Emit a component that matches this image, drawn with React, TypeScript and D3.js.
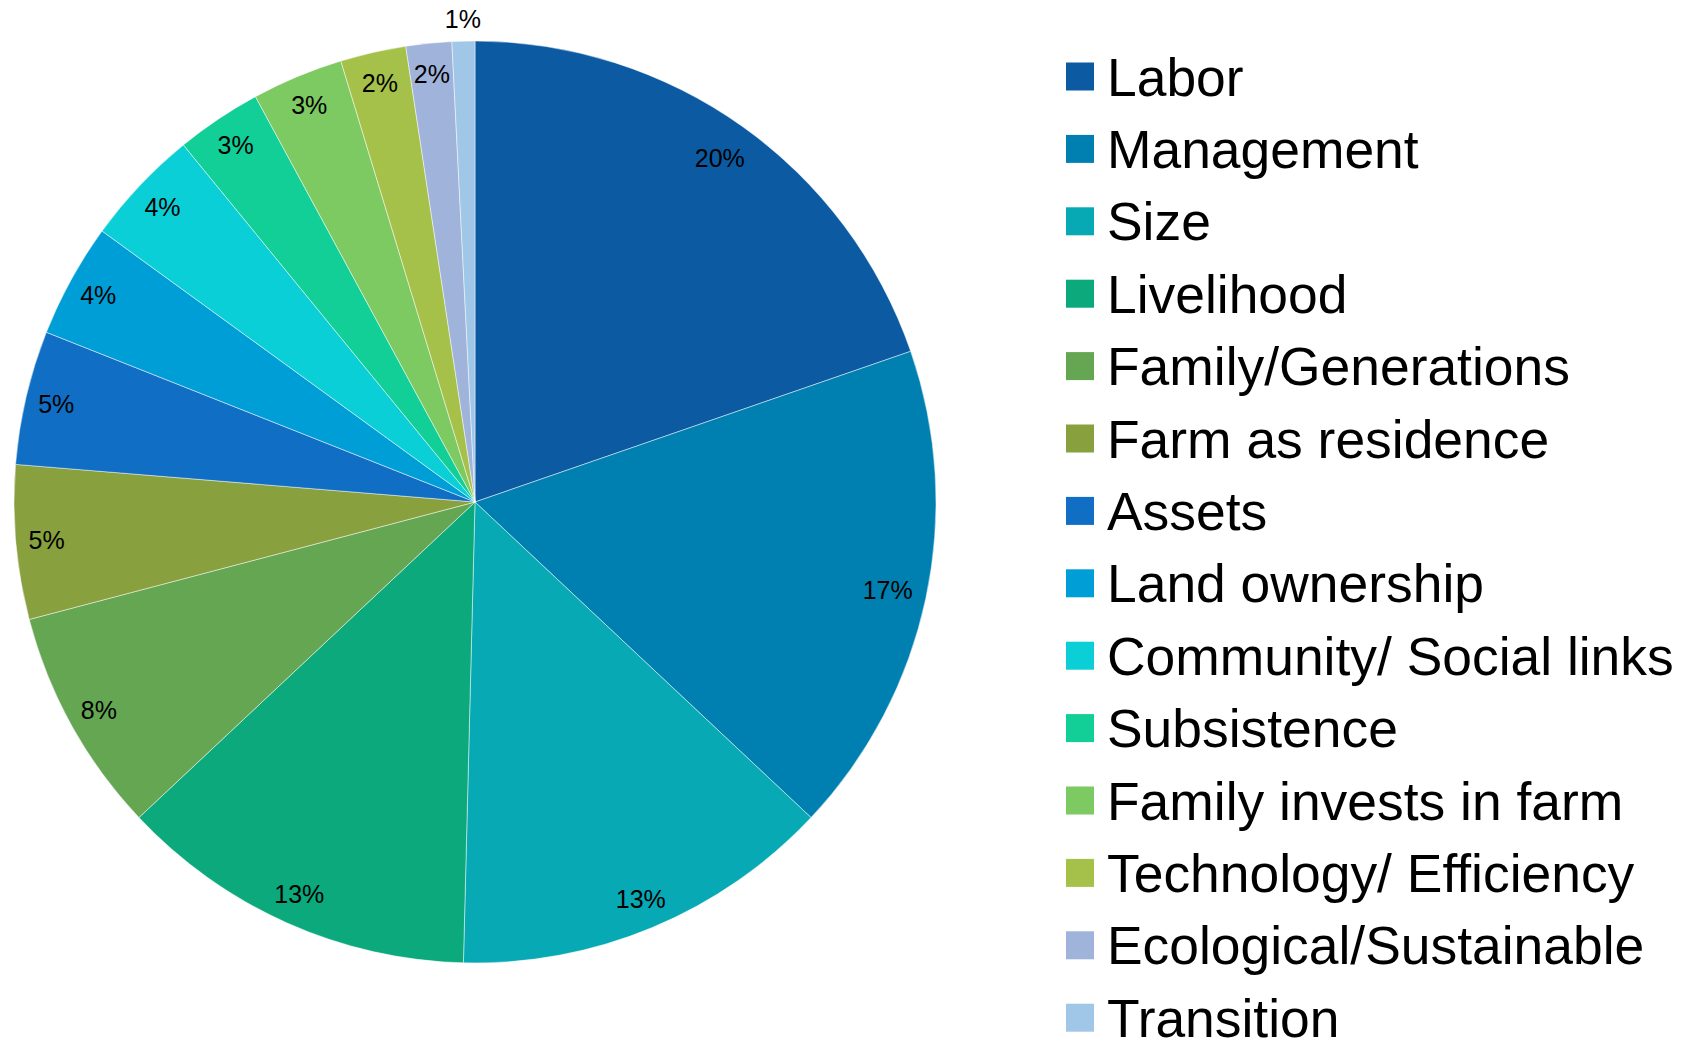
import React from "react";
import * as d3 from "d3";

const categories = [
  "Labor",
  "Management",
  "Size",
  "Livelihood",
  "Family/Generations",
  "Farm as residence",
  "Assets",
  "Land ownership",
  "Community/ Social links",
  "Subsistence",
  "Family invests in farm",
  "Technology/ Efficiency",
  "Ecological/Sustainable",
  "Transition",
];

const shares = [19.7, 17.3, 13.4, 12.6, 7.9, 5.4, 4.7, 4.0, 4.1, 3.0, 3.2, 2.3, 1.6, 0.8];

const colors = [
  "#0B5AA2",
  "#0080B0",
  "#06A9B4",
  "#0BA97B",
  "#65A653",
  "#88A03D",
  "#106EC4",
  "#009ED6",
  "#0BCFD6",
  "#11CF97",
  "#7DC962",
  "#A6C14A",
  "#A0B3DB",
  "#A0C7E7",
];

const W = 1689;
const H = 1038;
const cx = 475;
const cy = 502;
const R = 461;

export default function App() {
  const total = d3.sum(shares);
  const pie = d3
    .pie<number>()
    .sort(null)
    .value((d) => d);
  const arcs = pie(shares);
  const arcGen = d3.arc<d3.PieArcDatum<number>>().innerRadius(0).outerRadius(R);

  const legendX = 1066;
  const legendY0 = 76.5;
  const legendStep = 72.4;
  const sq = 28;
  const legendFont = 53.4;
  const labelFont = 25;

  return (
    <svg
      width={W}
      height={H}
      viewBox={`0 0 ${W} ${H}`}
      style={{ position: "absolute", left: 0, top: 0, background: "#fff" }}
      fontFamily="'Liberation Sans', Arial, sans-serif"
    >
      <g transform={`translate(${cx},${cy})`}>
        {arcs.map((a, i) => (
          <path
            key={i}
            d={arcGen(a) || ""}
            fill={colors[i]}
            stroke="#ffffff"
            strokeOpacity={0.6}
            strokeWidth={0.8}
          />
        ))}
        {arcs.map((a, i) => {
          const mid = (a.startAngle + a.endAngle) / 2;
          const small = a.endAngle - a.startAngle < 0.06;
          const pct = Math.round((shares[i] / total) * 100);
          const lr = small ? R + 22 : pct >= 15 ? 422 : 430;
          const x = lr * Math.sin(mid);
          const y = -lr * Math.cos(mid);
          return (
            <text
              key={"l" + i}
              x={x}
              y={y}
              textAnchor="middle"
              dy="0.36em"
              fontSize={labelFont}
              fill="#000"
            >
              {pct}%
            </text>
          );
        })}
      </g>
      <g>
        {categories.map((c, i) => {
          const yc = legendY0 + i * legendStep;
          return (
            <g key={c}>
              <rect x={legendX} y={yc - sq / 2} width={sq} height={sq} fill={colors[i]} />
              <text
                x={legendX + 41}
                y={yc + 19}
                fontSize={legendFont}
                fill="#000"
              >
                {c}
              </text>
            </g>
          );
        })}
      </g>
    </svg>
  );
}
